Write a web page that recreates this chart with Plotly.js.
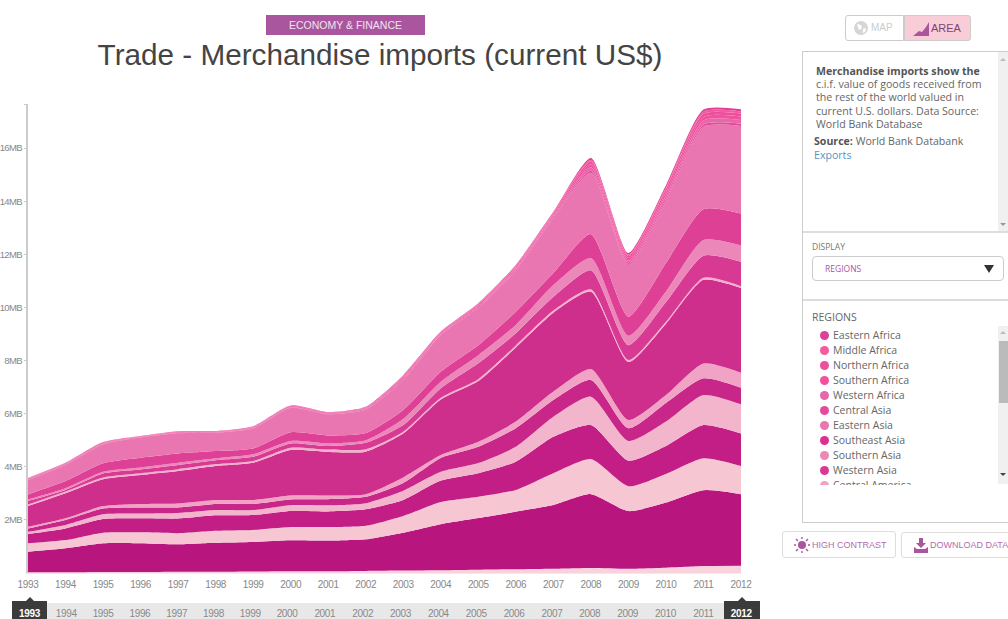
<!DOCTYPE html>
<html><head><meta charset="utf-8">
<script src="https://cdn.plot.ly/plotly-3.0.1.min.js"></script>
<style>
html,body{margin:0;padding:0;background:#fff;overflow:hidden;width:1008px;height:619px}
#chart{position:absolute;left:0;top:0;width:1008px;height:619px}
.abs{position:absolute;box-sizing:border-box}
body{font-family:"Open Sans",sans-serif;color:#666}
.btn{border:1px solid #ddd;border-radius:3px;background:#fff;font-family:"Liberation Sans",sans-serif;font-size:9px;color:#B56CAE;display:flex;align-items:center;white-space:nowrap;overflow:hidden}
.row{position:absolute;left:0;font-size:10.5px;color:#666;line-height:15px;white-space:nowrap}
.dot{position:absolute;width:9px;height:9px;border-radius:50%}
.yr{position:absolute;top:608px;width:38px;margin-left:-19px;text-align:center;font-family:"Liberation Sans",sans-serif;font-size:10px;letter-spacing:-0.35px;color:#888;line-height:12px}
.xtick text{letter-spacing:-0.35px}
.ytick text{letter-spacing:-0.6px}
</style></head><body>
<div id="chart"></div>
<div class="abs" style="left:266px;top:15px;width:159px;height:20px;background:#A9569F;color:#f0e4ee;font:10.5px/20px 'Liberation Sans',sans-serif;text-align:center">ECONOMY &amp; FINANCE</div>

<div class="abs" style="left:845px;top:15px;width:59px;height:26px;border:1px solid #ccc;border-radius:3px 0 0 3px;font:10px/24px 'Liberation Sans',sans-serif;color:#ccc;padding-left:25px">MAP
<svg class="abs" style="left:7px;top:4px" width="16" height="16"><circle cx="8" cy="8" r="7" fill="#d6d6d6"/><path d="M4 4l4 1 1 3-3 2zM10 9l3-1-1 4-2 1z" fill="#fff"/></svg></div>
<div class="abs" style="left:904px;top:15px;width:67px;height:26px;border:1px solid #ccc;border-radius:0 3px 3px 0;background:#F9CDD7;font:11px/24px 'Liberation Sans',sans-serif;color:#7d4378;padding-left:26px">AREA
<svg class="abs" style="left:8px;top:5px" width="18" height="16"><path d="M0 15L6 10 9 11 13 6 16 1 16 15Z" fill="#A9569F"/></svg></div>

<div class="abs" style="left:802px;top:51px;width:210px;height:472px;border:1px solid #ccc;border-right:0"></div>
<div class="abs" style="left:803px;top:231px;width:205px;height:2px;background:#ddd"></div>
<div class="abs" style="left:803px;top:299px;width:205px;height:2px;background:#ddd"></div>
<div class="abs" style="left:998px;top:52px;width:10px;height:179px;background:#f0f0f0"></div>
<svg class="abs" style="left:998px;top:55px" width="10" height="174"><path d="M2 6L5 3 8 6Z" fill="#bbb"/><path d="M2 168L5 171 8 168Z" fill="#999"/></svg>

<div class="abs" style="left:816px;top:65px;width:180px;font-size:10.6px;line-height:13.2px;color:#666"><b style="color:#555">Merchandise imports show the</b><br>c.i.f. value of goods received from<br>the rest of the world valued in<br>current U.S. dollars. Data Source:<br>World Bank Database</div>
<div class="abs" style="left:814px;top:135px;width:180px;font-size:10.6px;line-height:13.5px;color:#666"><b style="color:#555">Source:</b> World Bank Databank<br><span style="color:#5b92c4">Exports</span></div>

<div class="abs" style="left:812px;top:241px;font-size:8.5px;line-height:12px;color:#777">DISPLAY</div>
<div class="abs" style="left:812px;top:256px;width:192px;height:25px;border:1px solid #ccc;border-radius:4px;font-size:8.5px;line-height:23px;color:#A9569F;padding-left:12px">REGIONS
<svg class="abs" style="left:170px;top:7px" width="12" height="10"><path d="M1 1H11L6 9Z" fill="#333"/></svg></div>

<div class="abs" style="left:812px;top:310px;font-size:10.5px;line-height:14px;color:#666">REGIONS</div>
<div class="abs" id="legend" style="left:812px;top:328px;width:180px;height:157px;overflow:hidden"></div>
<div class="abs" style="left:998px;top:326px;width:10px;height:158px;background:#f0f0f0"></div>
<div class="abs" style="left:999px;top:341px;width:9px;height:62px;background:#bbb"></div>
<svg class="abs" style="left:998px;top:328px" width="10" height="154"><path d="M2 6L5 3 8 6Z" fill="#bbb"/><path d="M2 145L5 148 8 145Z" fill="#444"/></svg>

<div class="abs btn" style="left:782px;top:531px;width:114px;height:27px;padding-left:29px">HIGH CONTRAST
<svg class="abs" style="left:11px;top:5px" width="16" height="16"><circle cx="8" cy="8" r="4" fill="#A9569F"/><path d="M8 0v2M8 14v2M0 8h2M14 8h2M2 2l2 2M12 12l2 2M14 2l-2 2M4 12l-2 2" stroke="#A9569F" stroke-width="1.4"/></svg></div>
<div class="abs btn" style="left:901px;top:532px;width:112px;height:26px;padding-left:28px">DOWNLOAD DATA
<svg class="abs" style="left:11px;top:5px" width="16" height="15"><path d="M6 0h4v5h3L8 10 3 5h3zM1 9l3 2h8l3-2v6H1z" fill="#A9569F"/></svg></div>

<div class="abs" id="timeline" style="left:0;top:0;width:0;height:0"></div>

<script>
var years = [1993,1994,1995,1996,1997,1998,1999,2000,2001,2002,2003,2004,2005,2006,2007,2008,2009,2010,2011,2012];

// Values in the chart's "MB" units, listed from the bottom of the stack upward
var band1  = [.03,.03,.04,.04,.05,.05,.06,.07,.07,.08,.09,.10,.12,.14,.16,.19,.16,.20,.26,.27];
var band2  = [.77,.90,1.08,1.08,1.03,1.09,1.11,1.16,1.15,1.19,1.43,1.74,1.95,2.17,2.40,2.78,2.17,2.45,2.86,2.70];
var band3  = [.32,.31,.40,.41,.42,.45,.45,.50,.51,.51,.63,.83,.80,.82,1.20,1.32,.94,1.08,1.20,1.06];
var band4  = [.35,.44,.51,.53,.55,.58,.56,.60,.59,.62,.60,.81,.89,1.06,1.37,1.28,.96,1.05,1.25,1.22];
var band5  = [.08,.13,.18,.18,.21,.20,.19,.22,.23,.23,.35,.33,.38,.56,.75,1.07,.74,.92,1.13,1.10];
var band6  = [.13,.19,.22,.23,.21,.23,.23,.22,.23,.24,.29,.52,.61,.70,.63,.63,.48,.70,.63,.63];
var band7  = [.06,.06,.09,.13,.15,.15,.15,.15,.14,.10,.21,.11,.19,.25,.32,.41,.31,.30,.56,.56];
var band8  = [.78,.94,1.01,1.09,1.22,1.28,1.40,1.71,1.64,1.60,1.65,2.09,2.29,2.79,2.97,2.91,2.19,2.69,3.15,3.19];
var centralAmerica = [.06,.07,.07,.07,.07,.07,.07,.09,.09,.09,.07,.07,.07,.08,.08,.09,.07,.07,.08,.07];
var westernAsia    = [.14,.06,.15,.14,.16,.15,.16,.16,.13,.24,.25,.36,.60,.46,.52,.72,.56,.74,.83,.92];
var southernAsia   = [.05,.06,.06,.07,.08,.07,.09,.09,.10,.10,.23,.24,.30,.31,.44,.46,.35,.40,.59,.61];
var southeastAsia  = [.19,.27,.32,.37,.35,.27,.22,.33,.30,.27,.34,.38,.38,.50,.46,.90,.72,1.07,1.16,1.21];
var easternAsia    = [.54,.61,.71,.76,.76,.69,.75,.92,.80,.88,1.12,1.38,1.40,1.56,2.05,2.31,1.95,2.33,3.10,3.29];
var centralAsia    = [.01,.01,.01,.01,.01,.01,.01,.01,.01,.01,.03,.02,.03,.03,.04,.08,.06,.08,.09,.09];
var westernAfrica  = [.02,.02,.02,.01,.02,.02,.02,.02,.02,.03,.05,.03,.04,.05,.06,.13,.10,.14,.15,.14];
var southernAfrica = [.02,.02,.02,.01,.02,.01,.02,.02,.02,.02,.04,.03,.04,.04,.05,.11,.10,.12,.13,.13];
var northernAfrica = [.01,.01,.02,.01,.01,.01,.02,.02,.01,.02,.03,.02,.03,.03,.04,.10,.08,.11,.12,.11];
var middleAfrica   = [.01,.01,.01,.01,.01,.01,.01,.01,.01,.01,.02,.01,.02,.02,.03,.06,.05,.07,.08,.08];
var easternAfrica  = [.01,.01,.01,.01,.01,.01,.01,.01,.01,.02,.02,.02,.02,.03,.03,.08,.06,.08,.08,.08];

var bandValues = [band1,band2,band3,band4,band5,band6,band7,band8,centralAmerica,westernAsia,southernAsia,southeastAsia,easternAsia,centralAsia,westernAfrica,southernAfrica,northernAfrica,middleAfrica,easternAfrica];
var bandNames  = ["Band 1","Band 2","Band 3","Band 4","Band 5","Band 6","Band 7","Band 8","Central America","Western Asia","Southern Asia","Southeast Asia","Eastern Asia","Central Asia","Western Africa","Southern Africa","Northern Africa","Middle Africa","Eastern Africa"];
var bandColors = ["#F9D3DC","#B8157F","#F7C6D3","#C21E86","#F3B5CC","#C9268A","#F0A3C4","#CE2F8C","#F3AFCC","#D83A93","#EB88B9","#DE4096","#E976B1","#E44B9A","#E767AC","#F2519C","#EE4F9C","#F45A9C","#DE3F97"];

var yTicks = [2,4,6,8,10,12,14,16,17.66];
var yTickLabels = ["2MB","4MB","6MB","8MB","10MB","12MB","14MB","16MB",""];
var legendNames = ["Eastern Africa","Middle Africa","Northern Africa","Southern Africa","Western Africa","Central Asia","Eastern Asia","Southeast Asia","Southern Asia","Western Asia","Central America"];
var legendColors = ["#DE3F97","#F45A9C","#EE4F9C","#F2519C","#E767AC","#E44B9A","#E976B1","#DC2F90","#EB88B9","#D83A93","#F0A3C4"];

var traces = bandValues.map(function(v,i){
  return {x:years,y:v,name:bandNames[i],type:"scatter",mode:"lines",stackgroup:"one",
    line:{width:0,shape:"spline",smoothing:0.6,color:bandColors[i]},fillcolor:bandColors[i],hoverinfo:"x+y+name"};
});
var layout = {
  width:1008,height:619,paper_bgcolor:"#fff",plot_bgcolor:"#fff",showlegend:false,
  margin:{l:28,r:267,t:104,b:46,pad:0},
  title:{text:"Trade - Merchandise imports (current US$)",font:{family:"Liberation Sans",size:29.7,color:"#444"},
    x:380/1008,xref:"container",xanchor:"center",y:1-55/619,yref:"container",yanchor:"middle"},
  xaxis:{range:[1993,2012],tickvals:years,ticktext:years.map(String),showgrid:false,zeroline:false,
    showline:true,linecolor:"#ececec",linewidth:1,ticks:"outside",ticklen:2,tickcolor:"rgba(0,0,0,0)",
    tickfont:{family:"Liberation Sans",size:10,color:"#888"},tickangle:0},
  yaxis:{range:[0,17.66],tickvals:yTicks,ticktext:yTickLabels,showgrid:false,zeroline:false,
    showline:true,linecolor:"#ccc",linewidth:2,ticks:"outside",ticklen:2,tickcolor:"#ccc",tickwidth:1,
    tickfont:{family:"Liberation Sans",size:9.5,color:"#888"}}
};
Plotly.newPlot("chart",traces,layout,{displayModeBar:false});

var lg=document.getElementById("legend");
legendNames.forEach(function(n,i){
  var d=document.createElement("div");d.className="dot";d.style.cssText+="left:8px;top:"+(3+i*15)+"px;background:"+legendColors[i];
  var t=document.createElement("div");t.className="row";t.style.cssText+="left:21px;top:"+(i*15)+"px";t.textContent=n;
  lg.appendChild(d);lg.appendChild(t);
});

var tl=document.getElementById("timeline");
var strip=document.createElement("div");strip.className="abs";strip.style.cssText="left:47px;top:603px;width:678px;height:16px;background:#e8e8e8";tl.appendChild(strip);
[[12,47,29.5],[724,760,742]].forEach(function(b){
  var box=document.createElement("div");box.className="abs";box.style.cssText="left:"+b[0]+"px;top:601px;width:"+(b[1]-b[0])+"px;height:18px;background:#3b3b3b";tl.appendChild(box);
  var arr=document.createElement("div");arr.className="abs";arr.style.cssText="left:"+(b[2]-4)+"px;top:597px;width:0;height:0;border-left:4px solid transparent;border-right:4px solid transparent;border-bottom:4px solid #3b3b3b";tl.appendChild(arr);
});
years.forEach(function(y,i){
  var e=document.createElement("div");e.className="yr";e.textContent=y;
  e.style.left=(i<=7?29.5+i*36.8:287+(i-7)*37.85)+"px";
  if(i===0||i===years.length-1){e.style.color="#fff";e.style.fontWeight="bold";}
  tl.appendChild(e);
});
</script>
</body></html>
